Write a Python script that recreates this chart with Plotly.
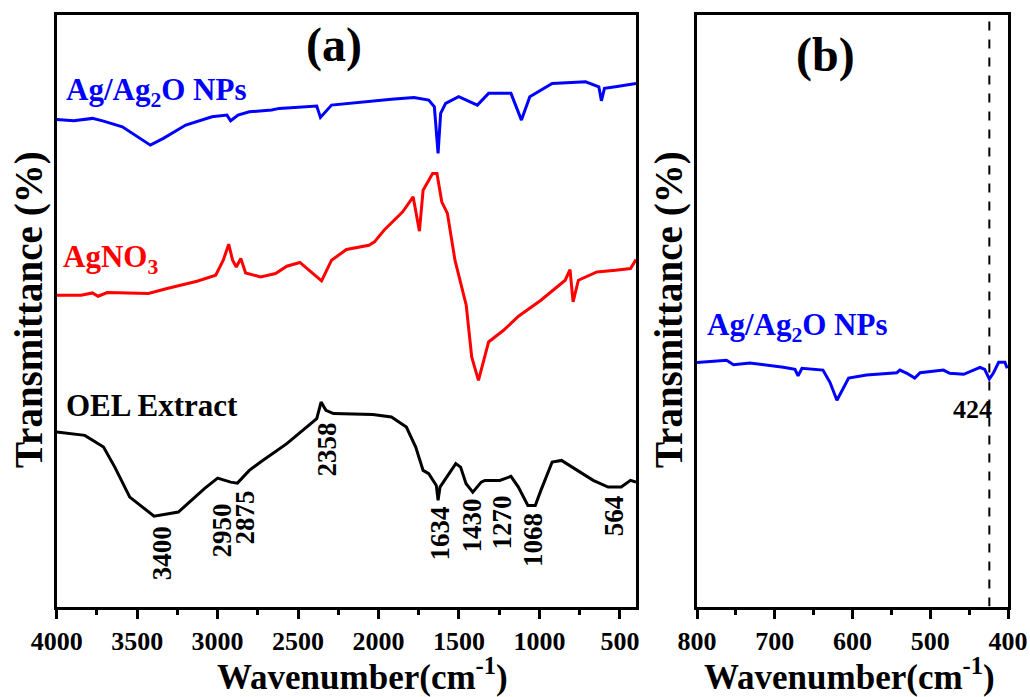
import plotly.graph_objects as go

# ---------------- data (panel a) ----------------
wn_np = [4000, 3894, 3778, 3709, 3592, 3500, 3418, 3337, 3198, 3035, 2942, 2919, 2873, 2803, 2664, 2617,
         2384, 2361, 2292, 1920, 1780, 1688, 1653, 1630, 1614, 1583, 1502, 1386, 1316, 1177, 1112, 1060,
         921, 713, 631, 615, 596, 527, 400]
t_np = [82.35, 82.12, 82.52, 82.06, 81.10, 79.41, 78.00, 79.14, 81.39, 82.79, 83.08, 82.12, 83.08, 83.64,
        83.93, 84.21, 84.60, 82.69, 84.77, 85.74, 86.07, 85.62, 84.48, 76.60, 83.37, 85.06, 86.18, 84.77,
        86.75, 86.75, 82.23, 86.18, 88.44, 88.71, 87.87, 85.50, 87.60, 87.87, 88.44]

wn_agno3 = [4000, 3848, 3778, 3743, 3686, 3430, 3314, 3128, 3012, 2965, 2931, 2907, 2884, 2856, 2826, 2733,
            2640, 2570, 2489, 2431, 2384, 2354, 2292, 2199, 2060, 2025, 1966, 1850, 1785, 1746, 1723, 1664,
            1637, 1607, 1572, 1525, 1455, 1421, 1379, 1316, 1223, 1130, 991, 840, 810, 791, 758, 643, 527,
            434, 400]
t_agno3 = [52.62, 52.62, 53.01, 52.45, 53.08, 52.91, 53.76, 54.99, 56.01, 58.55, 61.25, 58.55, 57.41, 58.83,
           56.40, 55.72, 56.29, 57.53, 58.16, 56.85, 55.72, 55.04, 58.55, 60.36, 61.08, 61.64, 63.62, 66.72,
           69.26, 63.45, 70.39, 73.21, 73.21, 68.41, 66.45, 58.55, 50.93, 42.18, 38.24, 44.72, 46.70, 49.07,
           51.78, 55.16, 56.97, 51.49, 55.16, 56.57, 56.85, 57.14, 58.66]

wn_oel = [4000, 3825, 3709, 3639, 3546, 3395, 3244, 3082, 3000, 2954, 2919, 2877, 2803, 2733, 2570, 2384,
          2357, 2327, 2280, 2036, 1920, 1827, 1769, 1723, 1688, 1641, 1630, 1618, 1548, 1520, 1490, 1456,
          1414, 1362, 1339, 1246, 1177, 1131, 1072, 1026, 991, 921, 863, 782, 666, 573, 492, 434, 400]
t_oel = [29.49, 28.93, 26.95, 23.57, 18.49, 15.28, 15.96, 19.92, 21.71, 21.32, 21.03, 20.86, 23.01, 24.42,
         27.53, 31.76, 34.57, 33.16, 32.61, 32.44, 32.03, 30.34, 26.95, 23.01, 22.45, 20.47, 17.94, 20.19,
         23.01, 24.15, 23.57, 20.76, 19.34, 21.03, 21.32, 21.32, 22.00, 20.19, 17.09, 17.09, 19.63, 24.42,
         24.70, 23.30, 21.32, 20.19, 20.19, 21.32, 21.03]

peak_labels = ["3400", "2950", "2875", "2358", "1634", "1430", "1270", "1068", "564"]

# ---------------- data (panel b) ----------------
wn_b = [800, 762, 753, 732, 689, 674, 670, 665, 638, 629, 620, 614, 605, 582, 543, 539, 530, 520, 513,
        483, 475, 457, 436, 430, 424, 419, 412, 404, 401]
t_b = [41.25, 41.62, 40.88, 41.17, 40.44, 40.10, 38.98, 40.27, 39.97, 37.90, 34.86, 36.38, 38.61, 39.14,
       39.53, 39.97, 39.42, 38.61, 39.53, 39.97, 39.42, 39.26, 40.44, 40.10, 38.46, 39.42, 41.29, 41.29, 40.27]
marker_b = 424

x_ticks_a = [4000, 3500, 3000, 2500, 2000, 1500, 1000, 500]
x_ticks_b = [800, 700, 600, 500, 400]

# ---------------- styling ----------------
FONT = "Liberation Serif"
BLUE = "#0000ff"
RED = "#ff0000"
BLACK = "#000000"
W, H = 1030, 697


def px(x):
    return x / W


def py(y):
    return 1 - y / H


fig = go.Figure()
fig.add_trace(go.Scatter(x=wn_np, y=t_np, mode="lines", line=dict(color=BLUE, width=3), xaxis="x", yaxis="y"))
fig.add_trace(go.Scatter(x=wn_agno3, y=t_agno3, mode="lines", line=dict(color=RED, width=3), xaxis="x", yaxis="y"))
fig.add_trace(go.Scatter(x=wn_oel, y=t_oel, mode="lines", line=dict(color=BLACK, width=3), xaxis="x", yaxis="y"))
fig.add_trace(go.Scatter(x=wn_b, y=t_b, mode="lines", line=dict(color=BLUE, width=3), xaxis="x2", yaxis="y2"))

ydom = [py(606.5), py(15)]
axis_common = dict(showline=True, linecolor="black", linewidth=3, mirror=True, showgrid=False,
                   zeroline=False, automargin=False)
tickfont = dict(family=FONT, size=26, color="black", weight="bold")

fig.update_layout(
    template="none",
    width=W, height=H, margin=dict(l=0, r=0, t=0, b=0, autoexpand=False),
    plot_bgcolor="white", paper_bgcolor="white", showlegend=False,
    xaxis=dict(domain=[px(56.7), px(636)], range=[4000, 400], tickvals=x_ticks_a,
               ticks="outside", ticklen=9, tickwidth=3, tickcolor="black",
               minor=dict(dtick=250, tick0=0, ticks="outside", ticklen=5, tickwidth=3, tickcolor="black"),
               tickfont=tickfont, anchor="y", **axis_common),
    yaxis=dict(domain=ydom, range=[0, 100], showticklabels=False, ticks="", anchor="x", **axis_common),
    xaxis2=dict(domain=[px(697), px(1008)], range=[800, 400], tickvals=x_ticks_b,
                ticks="outside", ticklen=9, tickwidth=3, tickcolor="black",
                minor=dict(dtick=50, tick0=0, ticks="outside", ticklen=5, tickwidth=3, tickcolor="black"),
                tickfont=tickfont, anchor="y2", **axis_common),
    yaxis2=dict(domain=ydom, range=[0, 100], showticklabels=False, ticks="", anchor="x2", **axis_common),
)

fig.add_shape(type="line", xref="x2", yref="y2", x0=marker_b, x1=marker_b, y0=0, y1=100,
              line=dict(color="black", width=2, dash="dash"))

ann = []


def text(x, y, s, size, color="black", angle=0, xref="paper", yref="paper", xanchor="center"):
    ann.append(dict(x=x, y=y, xref=xref, yref=yref, text=s, showarrow=False, textangle=angle,
                    xanchor=xanchor, yanchor="middle",
                    font=dict(family=FONT, size=size, color=color, weight="bold")))


# panel labels
text(px(334), py(45), "(a)", 48)
text(px(825), py(55), "(b)", 48)
# axis titles
text(px(29), py(310), "Transmittance (%)", 39, angle=-90)
text(px(669), py(310), "Transmittance (%)", 39, angle=-90)
text(px(362), py(674), "Wavenumber(cm<sup>-1</sup>)", 35)
text(px(849), py(674), "Wavenumber(cm<sup>-1</sup>)", 35)
# series labels
text(px(64), py(92), "Ag/Ag<sub>2</sub>O NPs", 31, BLUE, xanchor="left")
text(px(61), py(259), "AgNO<sub>3</sub>", 31, RED, xanchor="left")
text(px(64), py(405), "OEL Extract", 31, BLACK, xanchor="left")
text(px(705), py(327), "Ag/Ag<sub>2</sub>O NPs", 31, BLUE, xanchor="left")
text(marker_b + 22, 33.3, "424", 26, xref="x2", yref="y2")

# peak labels (panel a), placed beside their bands
label_pos = [(3340, 8.97), (2973, 12.86), (2830, 15.06), (2320, 26.56), (1618, 12.35),
             (1419, 13.71), (1233, 14.21), (1037, 11.17), (537, 15.40)]
for lab, (lx, ly) in zip(peak_labels, label_pos):
    text(lx, ly, lab, 27, angle=-90, xref="x", yref="y")

fig.update_layout(annotations=ann)
fig.write_html("out.html")
